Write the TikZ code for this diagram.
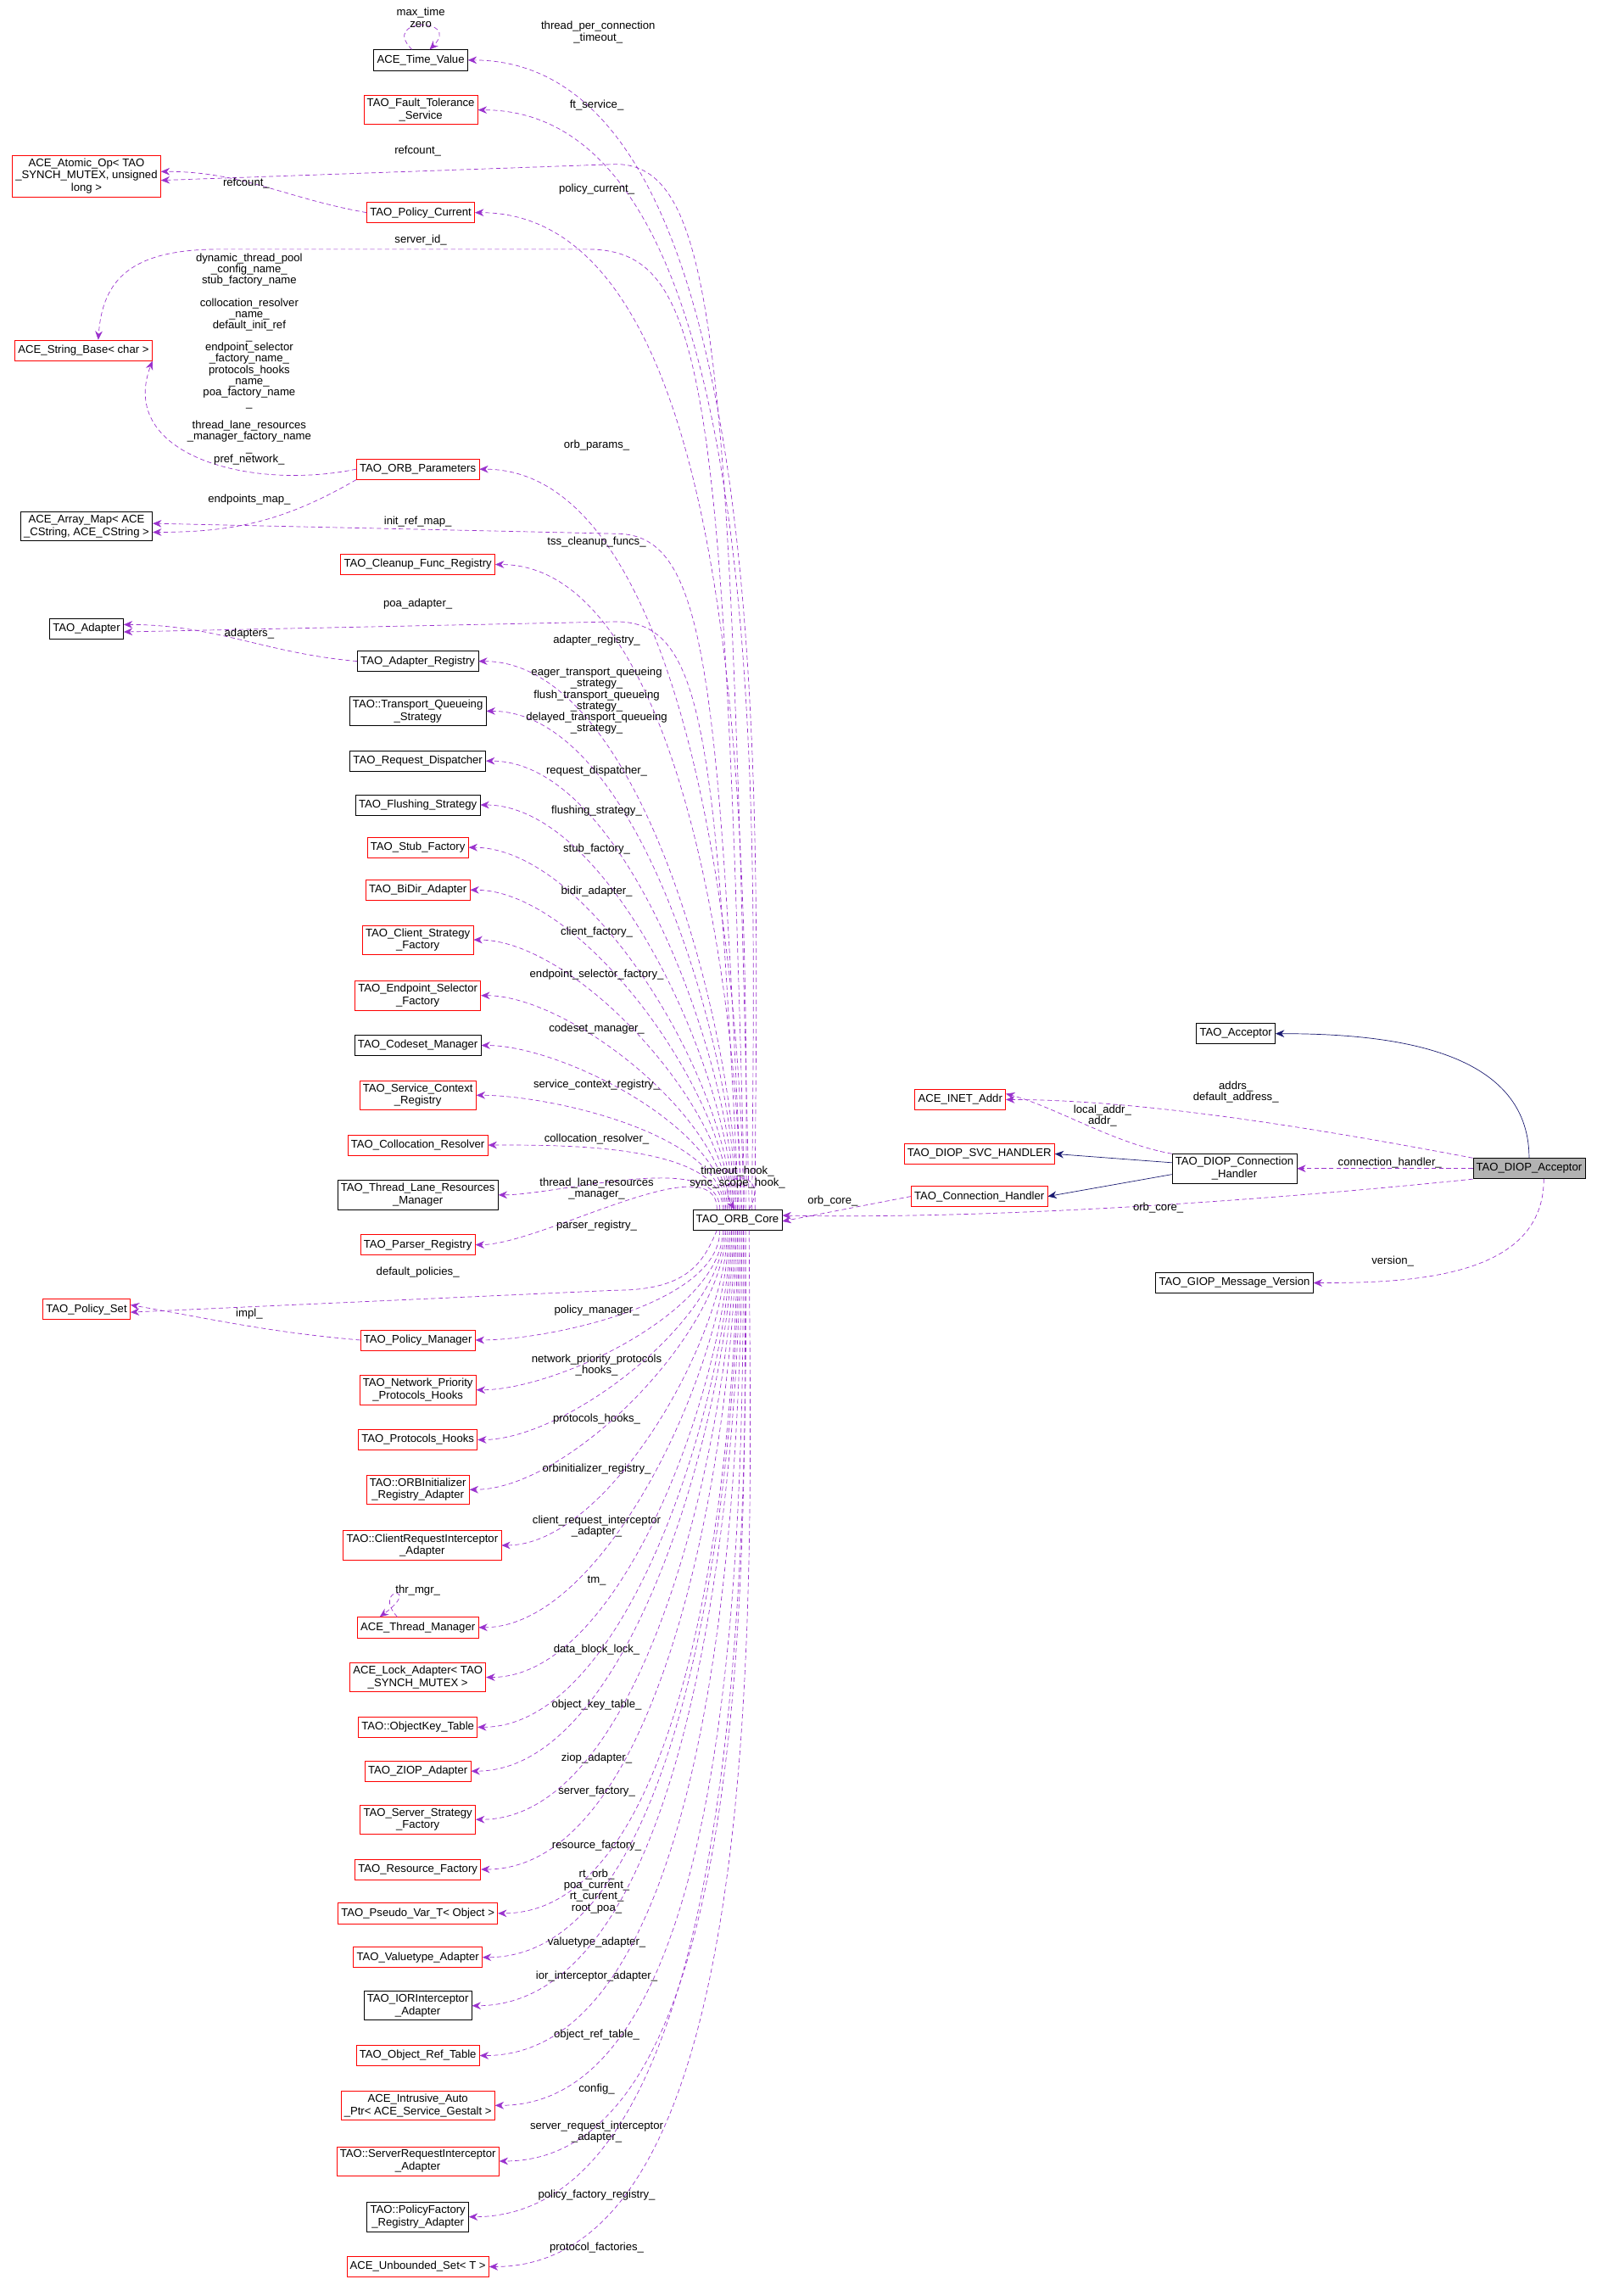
\documentclass[tikz,border=0pt]{standalone}
\usepackage{fontspec}
\setmainfont{Liberation Sans}
\usetikzlibrary{arrows.meta}
\begin{document}
\begin{tikzpicture}[x=1pt,y=-1pt,font=\fontsize{7.6}{8.4}\selectfont,
  bx/.style={draw=black,fill=white,align=center,inner sep=2.2pt,minimum height=14pt},
  rbx/.style={bx,draw=red},
  dep/.style={densely dashed,draw={rgb,255:red,154;green,50;blue,205},-{Stealth[length=6pt,width=5pt]}},
  inh/.style={draw={rgb,255:red,25;green,25;blue,112},-{Stealth[length=6pt,width=5pt]}},
  lb/.style={align=center,inner sep=0pt,font=\fontsize{7.6}{7.6}\selectfont}]
\useasboundingbox (0,0) rectangle (1089,1566);
% left column nodes
\node[bx] (tv) at (287,41) {ACE\_Time\_Value};
\node[rbx] (fts) at (287,75) {TAO\_Fault\_Tolerance\\\_Service};
\node[rbx] (aop) at (59,120) {ACE\_Atomic\_Op< TAO\\\_SYNCH\_MUTEX, unsigned\\long >};
\node[rbx] (pc) at (287,145) {TAO\_Policy\_Current};
\node[rbx] (sb) at (57,239) {ACE\_String\_Base< char >};
\node[rbx] (op) at (285,320) {TAO\_ORB\_Parameters};
\node[bx] (am) at (59,359) {ACE\_Array\_Map< ACE\\\_CString, ACE\_CString >};
\node[rbx] (cfr) at (285,385) {TAO\_Cleanup\_Func\_Registry};
\node[bx] (ad) at (59,429) {TAO\_Adapter};
\node[bx] (ar) at (285,451) {TAO\_Adapter\_Registry};
\node[bx] (tqs) at (285,485) {TAO::Transport\_Queueing\\\_Strategy};
\node[bx] (rd) at (285,519) {TAO\_Request\_Dispatcher};
\node[bx] (fs) at (285,549) {TAO\_Flushing\_Strategy};
\node[rbx] (sf) at (285,578) {TAO\_Stub\_Factory};
\node[rbx] (bd) at (285,607) {TAO\_BiDir\_Adapter};
\node[rbx] (csf) at (285,641) {TAO\_Client\_Strategy\\\_Factory};
\node[rbx] (esf) at (285,679) {TAO\_Endpoint\_Selector\\\_Factory};
\node[bx] (cm) at (285,713) {TAO\_Codeset\_Manager};
\node[rbx] (scr) at (285,747) {TAO\_Service\_Context\\\_Registry};
\node[rbx] (cr) at (285,781) {TAO\_Collocation\_Resolver};
\node[bx] (tlr) at (285,815) {TAO\_Thread\_Lane\_Resources\\\_Manager};
\node[rbx] (pr) at (285,849) {TAO\_Parser\_Registry};
\node[rbx] (ps) at (59,893) {TAO\_Policy\_Set};
\node[rbx] (pm) at (285,914) {TAO\_Policy\_Manager};
\node[rbx] (npph) at (285,948) {TAO\_Network\_Priority\\\_Protocols\_Hooks};
\node[rbx] (ph) at (285,982) {TAO\_Protocols\_Hooks};
\node[rbx] (oira) at (285,1016) {TAO::ORBInitializer\\\_Registry\_Adapter};
\node[rbx] (cria) at (288,1054) {TAO::ClientRequestInterceptor\\\_Adapter};
\node[rbx] (tm) at (285,1110) {ACE\_Thread\_Manager};
\node[rbx] (la) at (285,1144) {ACE\_Lock\_Adapter< TAO\\\_SYNCH\_MUTEX >};
\node[rbx] (okt) at (285,1178) {TAO::ObjectKey\_Table};
\node[rbx] (za) at (285,1208) {TAO\_ZIOP\_Adapter};
\node[rbx] (ssf) at (285,1241) {TAO\_Server\_Strategy\\\_Factory};
\node[rbx] (rf) at (285,1275) {TAO\_Resource\_Factory};
\node[rbx] (pv) at (285,1305) {TAO\_Pseudo\_Var\_T< Object >};
\node[rbx] (va) at (285,1335) {TAO\_Valuetype\_Adapter};
\node[bx] (iia) at (285,1368) {TAO\_IORInterceptor\\\_Adapter};
\node[rbx] (ort) at (285,1402) {TAO\_Object\_Ref\_Table};
\node[rbx] (iap) at (285,1436) {ACE\_Intrusive\_Auto\\\_Ptr< ACE\_Service\_Gestalt >};
\node[rbx] (sria) at (285,1474) {TAO::ServerRequestInterceptor\\\_Adapter};
\node[bx] (pfra) at (285,1512) {TAO::PolicyFactory\\\_Registry\_Adapter};
\node[rbx] (us) at (285,1546) {ACE\_Unbounded\_Set< T >};
% right part
\node[bx] (core) at (503,832) {TAO\_ORB\_Core};
\node[bx] (tacc) at (843,705) {TAO\_Acceptor};
\node[rbx] (inet) at (655,750) {ACE\_INET\_Addr};
\node[rbx] (svc) at (668,787) {TAO\_DIOP\_SVC\_HANDLER};
\node[bx] (dch) at (842,797) {TAO\_DIOP\_Connection\\\_Handler};
\node[rbx] (tch) at (668,816) {TAO\_Connection\_Handler};
\node[bx,fill=black!30] (acc) at (1043,797) {TAO\_DIOP\_Acceptor};
\node[bx] (gmv) at (842,875) {TAO\_GIOP\_Message\_Version};
% edges from core upward
\foreach \n/\dx/\lx/\ly/\t in {
 tv/12/408/22/{thread\_per\_connection\\\_timeout\_},
 fts/10/407/72/{ft\_service\_},
 pc/6/407/129/{policy\_current\_},
 op/4/407/304/{orb\_params\_},
 cfr/2/407/370/{tss\_cleanup\_funcs\_},
 ar/0/407/437/{adapter\_registry\_},
 tqs/-1/407/478/{eager\_transport\_queueing\\\_strategy\_\\flush\_transport\_queueing\\\_strategy\_\\delayed\_transport\_queueing\\\_strategy\_},
 rd/-2/407/526/{request\_dispatcher\_},
 fs/-3/407/553/{flushing\_strategy\_},
 sf/-4/407/579/{stub\_factory\_},
 bd/-5/407/608/{bidir\_adapter\_},
 csf/-6/407/636/{client\_factory\_},
 esf/-7/407/665/{endpoint\_selector\_factory\_},
 cm/-8/407/702/{codeset\_manager\_},
 scr/-9/407/740/{service\_context\_registry\_},
 cr/-10/407/777/{collocation\_resolver\_},
 tlr/-12/407/811/{thread\_lane\_resources\\\_manager\_},
 pr/-14/407/836/{parser\_registry\_}}
{\draw[dep] ([xshift=\dx pt]core.north) to[out=90,in=0,looseness=0.7] (\n.east);
 \node[lb] at (\lx,\ly) {\t};}
\foreach \n/\dx/\lx/\ly/\t in {
 pm/-12/407/894/{policy\_manager\_},
 npph/-10/407/931/{network\_priority\_protocols\\\_hooks\_},
 ph/-9/407/968/{protocols\_hooks\_},
 oira/-8/407/1002/{orbinitializer\_registry\_},
 cria/-7/407/1041/{client\_request\_interceptor\\\_adapter\_},
 tm/-6/407/1078/{tm\_},
 la/-5/407/1125/{data\_block\_lock\_},
 okt/-4/407/1163/{object\_key\_table\_},
 za/-3/407/1199/{ziop\_adapter\_},
 ssf/-2/407/1222/{server\_factory\_},
 rf/-1/407/1259/{resource\_factory\_},
 pv/0/407/1290/{rt\_orb\_\\poa\_current\_\\rt\_current\_\\root\_poa\_},
 va/1/407/1325/{valuetype\_adapter\_},
 iia/2/407/1348/{ior\_interceptor\_adapter\_},
 ort/3/407/1388/{object\_ref\_table\_},
 iap/4/407/1425/{config\_},
 sria/5/407/1454/{server\_request\_interceptor\\\_adapter\_},
 pfra/6/407/1497/{policy\_factory\_registry\_},
 us/8/407/1533/{protocol\_factories\_}}
{\draw[dep] ([xshift=\dx pt]core.south) to[out=-90,in=0,looseness=0.7] (\n.east);
 \node[lb] at (\lx,\ly) {\t};}
% long edges from core to far-left nodes
\draw[dep] ([xshift=8pt]core.north) .. controls (498,250) and (490,112) .. (420,112) -- ([yshift=-3pt]aop.east);
\node[lb] at (285,103) {refcount\_};
\draw[dep] ([xshift=5pt]core.north) .. controls (494,250) and (480,170) .. (400,170) -- (150,170) .. controls (90,170) and (70,190) .. ([xshift=10pt]sb.north);
\node[lb] at (287,164) {server\_id\_};
\draw[dep] ([xshift=3pt]core.north) .. controls (490,450) and (480,364) .. (420,364) -- ([yshift=2pt]am.east);
\node[lb] at (285,356) {init\_ref\_map\_};
\draw[dep] ([xshift=1pt]core.north) .. controls (488,500) and (480,424) .. (420,424) -- ([yshift=-2pt]ad.east);
\node[lb] at (285,412) {poa\_adapter\_};
\draw[dep] ([xshift=-14pt]core.south) .. controls (480,860) and (470,880) .. (420,880) -- ([yshift=-2pt]ps.east);
\node[lb] at (285,868) {default\_policies\_};
% other dependency edges
\draw[dep] (pc.west) to[out=170,in=0] ([yshift=3pt]aop.east);
\node[lb] at (168,125) {refcount\_};
\draw[dep] (op.west) .. controls (170,335) and (80,310) .. (sb.south east);
\node[lb] at (170,245) {dynamic\_thread\_pool\\\_config\_name\_\\stub\_factory\_name\\ \\collocation\_resolver\\\_name\_\\default\_init\_ref\\\_\\endpoint\_selector\\\_factory\_name\_\\protocols\_hooks\\\_name\_\\poa\_factory\_name\\\_\\ \\thread\_lane\_resources\\\_manager\_factory\_name\\\_\\pref\_network\_};
\draw[dep] (op.south west) to[out=-150,in=0] ([yshift=-4pt]am.east);
\node[lb] at (170,341) {endpoints\_map\_};
\draw[dep] (ar.west) to[out=175,in=0] ([yshift=3pt]ad.east);
\node[lb] at (170,432) {adapters\_};
\draw[dep] (pm.west) to[out=175,in=-10] ([yshift=3pt]ps.east);
\node[lb] at (170,896) {impl\_};
% self loops
\draw[dep] ([xshift=-6pt]tv.north) .. controls +(-22,-22) and +(22,-22) .. ([xshift=6pt]tv.north);
\node[lb] at (287,12) {max\_time\\zero};
\draw[dep] ([xshift=-14pt]tm.north) .. controls +(-18,-20) and +(30,-22) .. ([xshift=-26pt]tm.north);
\node[lb] at (285,1085) {thr\_mgr\_};
\draw[dep] ([xshift=8pt]core.north) .. controls +(16,-28) and +(-16,-28) .. ([xshift=-2pt]core.north);
\node[lb] at (503,803) {timeout\_hook\_\\sync\_scope\_hook\_};
% inheritance
\draw[inh] (acc.north) to[out=90,in=0] (tacc.east);
\draw[inh] ([yshift=4pt]dch.west) -- (svc.east);
\draw[inh] ([yshift=-4pt]dch.west) -- (tch.east);
% right dependencies
\draw[dep] (acc.north west) .. controls (900,770) and (780,750) .. (inet.east);
\node[lb] at (843,745) {addrs\_\\default\_address\_};
\draw[dep] (dch.north west) .. controls (760,780) and (720,755) .. ([yshift=4pt]inet.east);
\node[lb] at (752,761) {local\_addr\_\\addr\_};
\draw[dep] (acc.west) -- (dch.east);
\node[lb] at (948,793) {connection\_handler\_};
\draw[dep] (acc.south west) .. controls (900,815) and (700,832) .. ([yshift=3pt]core.east);
\node[lb] at (790,824) {orb\_core\_};
\draw[dep] (tch.west) -- ([yshift=-1pt]core.east);
\node[lb] at (568,819) {orb\_core\_};
\draw[dep] ([xshift=10pt]acc.south) to[out=-90,in=0] (gmv.east);
\node[lb] at (950,860) {version\_};
\end{tikzpicture}
\end{document}
